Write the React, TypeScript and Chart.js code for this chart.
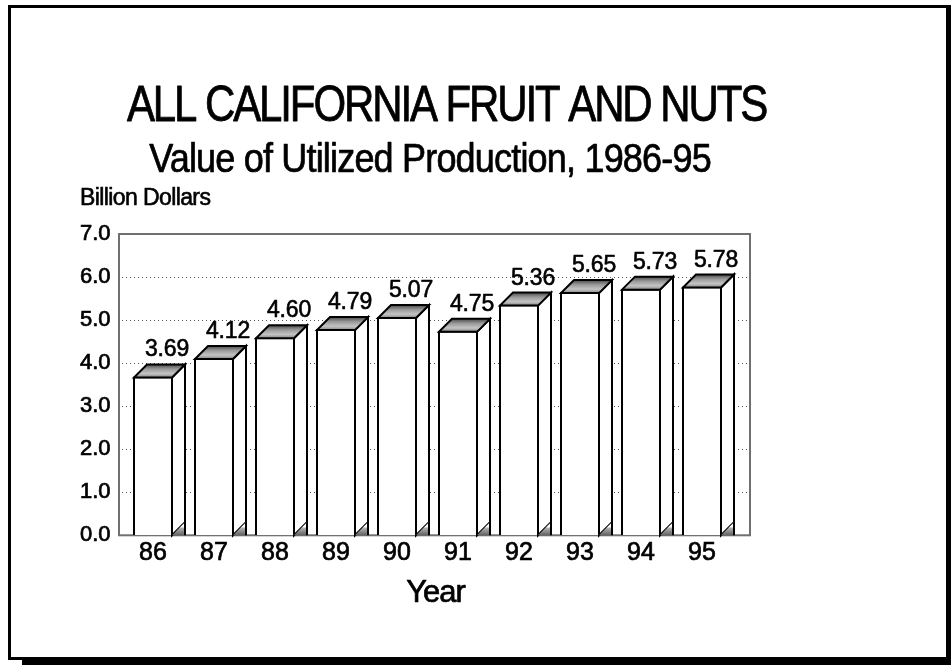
import React, { useEffect, useRef } from "react";
import { Chart, registerables } from "chart.js";

Chart.register(...registerables);

const years = ["86", "87", "88", "89", "90", "91", "92", "93", "94", "95"];
const values = [3.69, 4.12, 4.6, 4.79, 5.07, 4.75, 5.36, 5.65, 5.73, 5.78];
const yTicks = [0, 1, 2, 3, 4, 5, 6, 7];
const titleText = "ALL CALIFORNIA FRUIT AND NUTS";
const subtitleText = "Value of Utilized Production, 1986-95";
const yAxisLabel = "Billion Dollars";
const xAxisLabel = "Year";

const FONT = '"Liberation Sans", Arial, Helvetica, sans-serif';
const DEPTH = 13;

function drawText(
  ctx: CanvasRenderingContext2D,
  text: string,
  x: number,
  y: number,
  size: number,
  align: CanvasTextAlign,
  sx: number,
  ls: number,
  stroke: number
) {
  ctx.save();
  ctx.translate(x, y);
  ctx.scale(sx, 1);
  ctx.font = `${size}px ${FONT}`;
  (ctx as any).letterSpacing = `${ls}px`;
  ctx.fillStyle = "#000";
  ctx.strokeStyle = "#000";
  ctx.lineWidth = stroke;
  ctx.lineJoin = "round";
  ctx.textAlign = align;
  ctx.textBaseline = "alphabetic";
  ctx.fillText(text, 0, 0);
  if (stroke > 0) ctx.strokeText(text, 0, 0);
  ctx.restore();
}

export default function App() {
  const ref = useRef<HTMLCanvasElement>(null);

  useEffect(() => {
    const canvas = ref.current!;

    const decor = {
      id: "decor",
      beforeDraw(chart: any) {
        const ctx: CanvasRenderingContext2D = chart.ctx;
        ctx.save();
        ctx.fillStyle = "#fff";
        ctx.fillRect(0, 0, chart.width, chart.height);
        ctx.fillStyle = "#000";
        ctx.fillRect(8, 5, 940, 3);
        ctx.fillRect(8, 5, 3, 655);
        ctx.fillRect(946, 5, 5, 660);
        ctx.fillRect(8, 657, 943, 3);
        ctx.fillRect(22, 657, 929, 8);
        ctx.restore();

        const a = chart.chartArea;
        const frameL = a.left - 3.5;
        const frameR = a.right + 17.5;
        drawText(ctx, titleText, 446.5, 121, 50, "center", 0.84, -2.5, 0.8);
        drawText(ctx, subtitleText, 430, 172, 40, "center", 0.9, -0.9, 0.7);
        drawText(ctx, yAxisLabel, 80, 205, 23, "left", 1, -0.6, 0.6);
        drawText(ctx, xAxisLabel, (frameL + frameR) / 2 + 1, 602, 31, "center", 1, -1, 0.7);
      },
      beforeDatasetsDraw(chart: any) {
        const ctx: CanvasRenderingContext2D = chart.ctx;
        const a = chart.chartArea;
        const ys = chart.scales.y;
        const frameL = a.left - 3.5;
        const frameR = a.right + 17.5;
        ctx.save();
        ctx.strokeStyle = "#555";
        ctx.lineWidth = 1;
        ctx.setLineDash([1, 3]);
        yTicks.forEach((v) => {
          if (v === 0 || v === yTicks[yTicks.length - 1]) return;
          const py = Math.round(ys.getPixelForValue(v)) + 0.5;
          ctx.beginPath();
          ctx.moveTo(frameL + 3, py);
          ctx.lineTo(frameR - 2, py);
          ctx.stroke();
        });
        ctx.setLineDash([]);
        ctx.strokeStyle = "#707070";
        ctx.lineWidth = 2;
        ctx.strokeRect(frameL, a.top, frameR - frameL, a.bottom - a.top);
        ctx.restore();
      },
      afterDatasetsDraw(chart: any) {
        const ctx: CanvasRenderingContext2D = chart.ctx;
        const meta = chart.getDatasetMeta(0);
        const d = DEPTH;
        ctx.save();
        ctx.lineWidth = 2;
        ctx.lineJoin = "miter";
        ctx.strokeStyle = "#000";
        meta.data.forEach((bar: any, i: number) => {
          const p = bar.getProps(["x", "y", "base", "width"], true);
          const xl = p.x - p.width / 2 + 1;
          const xr = p.x + p.width / 2 - 1;
          const yt = p.y + 1;
          const y0 = p.base;

          // side face
          ctx.beginPath();
          ctx.moveTo(xr, yt);
          ctx.lineTo(xr + d, yt - d);
          ctx.lineTo(xr + d, y0 - d);
          ctx.lineTo(xr, y0);
          ctx.closePath();
          ctx.fillStyle = "#fff";
          ctx.fill();
          ctx.stroke();

          // floor triangle
          const fg = ctx.createLinearGradient(0, y0 - d, 0, y0);
          fg.addColorStop(0, "#fff");
          fg.addColorStop(0.35, "#fff");
          fg.addColorStop(0.45, "#b0b0b0");
          fg.addColorStop(1, "#606060");
          ctx.beginPath();
          ctx.moveTo(xr, y0);
          ctx.lineTo(xr + d, y0 - d);
          ctx.lineTo(xr + d, y0);
          ctx.closePath();
          ctx.fillStyle = fg;
          ctx.fill();
          ctx.beginPath();
          ctx.moveTo(xr + d, y0 - d);
          ctx.lineTo(xr + d, y0);
          ctx.stroke();

          // top face
          const tg = ctx.createLinearGradient(0, yt - d, 0, yt);
          tg.addColorStop(0, "#4a4a4a");
          tg.addColorStop(0.35, "#999");
          tg.addColorStop(0.7, "#c4c4c4");
          tg.addColorStop(1, "#858585");
          ctx.beginPath();
          ctx.moveTo(xl, yt);
          ctx.lineTo(xr, yt);
          ctx.lineTo(xr + d, yt - d);
          ctx.lineTo(xl + d, yt - d);
          ctx.closePath();
          ctx.fillStyle = tg;
          ctx.fill();
          ctx.stroke();

          // value label
          drawText(ctx, values[i].toFixed(2), p.x + d + 1, yt - d - 8, 23, "center", 1, -0.2, 0.6);
        });
        ctx.restore();
      },
    };

    const chart = new Chart(canvas, {
      type: "bar",
      data: {
        labels: years,
        datasets: [
          {
            data: values,
            backgroundColor: "#fff",
            borderColor: "#000",
            borderWidth: 2,
            borderSkipped: "bottom",
            categoryPercentage: 1,
            barPercentage: 40 / 61,
          },
        ],
      },
      options: {
        animation: false,
        responsive: false,
        maintainAspectRatio: false,
        layout: { padding: { left: 0, right: 218.5, top: 234, bottom: 70.7 } },
        plugins: {
          legend: { display: false },
          tooltip: { enabled: false },
          title: { display: false },
        },
        scales: {
          x: {
            grid: { display: false, drawTicks: false },
            border: { display: false },
            ticks: {
              font: { family: FONT, size: 25 },
              color: "#000",
              padding: 3,
              textStrokeColor: "#000",
              textStrokeWidth: 0.7,
            },
            afterFit: (s: any) => {
              s.height = 60;
            },
          },
          y: {
            min: 0,
            max: 7,
            grid: { display: false, drawTicks: false },
            border: { display: false },
            afterBuildTicks: (s: any) => {
              s.ticks = yTicks.map((v) => ({ value: v }));
            },
            ticks: {
              callback: (v: any) => Number(v).toFixed(1),
              font: { family: FONT, size: 22 },
              color: "#000",
              padding: 12,
              textStrokeColor: "#000",
              textStrokeWidth: 0.7,
            },
            afterFit: (s: any) => {
              s.width = 122.5;
            },
          },
        },
      },
      plugins: [decor],
    } as any);

    return () => chart.destroy();
  }, []);

  return (
    <div style={{ position: "fixed", left: 0, top: 0, width: 951, height: 666, background: "#fff" }}>
      <canvas ref={ref} width={951} height={666} style={{ display: "block", width: 951, height: 666 }} />
    </div>
  );
}
